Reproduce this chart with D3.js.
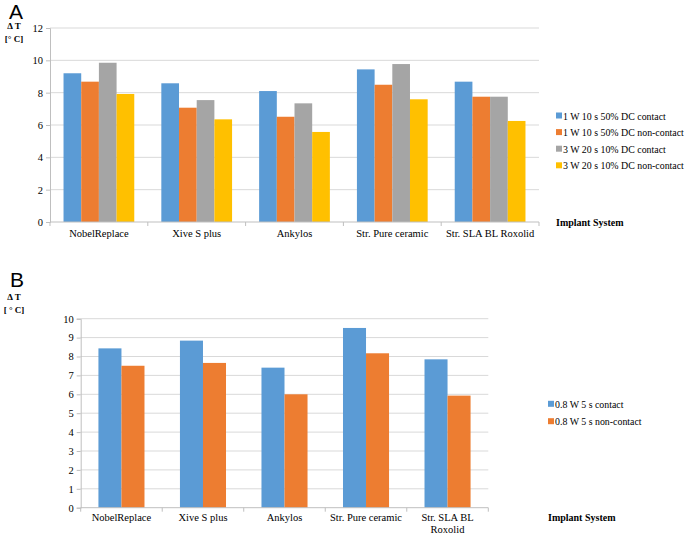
<!DOCTYPE html>
<html><head><meta charset="utf-8">
<script src="https://cdn.jsdelivr.net/npm/d3@7"></script>
<style>
body{margin:0;background:#fff;}
</style></head>
<body><svg id="c" width="685" height="535"></svg>
<script>
const categories = ["NobelReplace","Xive S plus","Ankylos","Str. Pure ceramic","Str. SLA BL Roxolid"];
const categoriesB = [["NobelReplace"],["Xive S plus"],["Ankylos"],["Str. Pure ceramic"],["Str. SLA BL","Roxolid"]];
const seriesA = ["1 W 10 s 50% DC contact","1 W 10 s 50% DC non-contact","3 W 20 s 10% DC contact","3 W 20 s 10% DC non-contact"];
const valuesA = [
  [9.2, 8.58, 8.1, 9.44, 8.68],
  [8.68, 7.07, 6.51, 8.49, 7.75],
  [9.85, 7.54, 7.34, 9.77, 7.75],
  [7.92, 6.35, 5.57, 7.59, 6.25]
];
const seriesB = ["0.8 W 5 s contact","0.8 W 5 s non-contact"];
const valuesB = [
  [8.43, 8.84, 7.41, 9.51, 7.85],
  [7.51, 7.66, 6.0, 8.17, 5.93]
];
const ticksA = [0,2,4,6,8,10,12];
const ticksB = [0,1,2,3,4,5,6,7,8,9,10];
const colors = ["#5b9bd5","#ed7d31","#a5a5a5","#ffc000"];
const SERIF = "'Liberation Serif', 'Times New Roman', Times, serif";
const SANS = "'Liberation Sans', Arial, Helvetica, sans-serif";

const svg = d3.select("#c");

function panel(cfg){
  const g = svg.append("g");
  const x = d3.scaleBand().domain(d3.range(categories.length)).range([cfg.x0, cfg.x1]).paddingInner(0).paddingOuter(0);
  const y = d3.scaleLinear().domain([0, cfg.max]).range([cfg.y0, cfg.y1]);
  const inner = d3.scaleBand().domain(d3.range(cfg.series.length)).range([0, x.bandwidth()]).paddingOuter(cfg.pad).paddingInner(0);
  g.selectAll(".grid").data(cfg.ticks.filter(t=>t>0)).join("line")
    .attr("x1", cfg.x0).attr("x2", cfg.x1)
    .attr("y1", d=>y(d)).attr("y2", d=>y(d))
    .attr("stroke","#d9d9d9").attr("stroke-width",1);
  cfg.series.forEach((s,si)=>{
    g.selectAll(".b"+si).data(cfg.values[si]).join("rect")
      .attr("x",(d,i)=>x(i)+inner(si)).attr("width",inner.bandwidth())
      .attr("y",d=>y(d)).attr("height",d=>y(0)-y(d))
      .attr("fill",colors[si]);
  });
  const ya = d3.axisLeft(y).tickValues(cfg.ticks).tickSize(4).tickPadding(3);
  const yg = g.append("g").attr("transform",`translate(${cfg.x0},0)`).call(ya);
  yg.attr("font-family", null);
  yg.select(".domain").attr("stroke","#bfbfbf");
  yg.selectAll(".tick line").attr("stroke","#bfbfbf");
  yg.selectAll("text").attr("font-size",10.5).style("font-family",SERIF).attr("fill","#000");
  g.append("line").attr("x1",cfg.x0).attr("x2",cfg.x1).attr("y1",y(0)).attr("y2",y(0)).attr("stroke","#bfbfbf");
  g.selectAll(".xt").data(d3.range(categories.length+1)).join("line")
    .attr("x1",i=>cfg.x0+i*x.bandwidth()).attr("x2",i=>cfg.x0+i*x.bandwidth())
    .attr("y1",y(0)).attr("y2",y(0)+4).attr("stroke","#bfbfbf");
  cfg.labels.forEach((lines,i)=>{
    lines.forEach((l,li)=>{
      g.append("text").attr("x",x(i)+x.bandwidth()/2).attr("y",y(0)+cfg.labelDy+li*cfg.lineStep)
        .attr("text-anchor","middle").attr("font-size",10.5).style("font-family",SERIF).text(l);
    });
  });
  cfg.series.forEach((s,si)=>{
    const ly = cfg.legY + si*cfg.legStep;
    g.append("rect").attr("x",cfg.legX).attr("y",ly-3.5).attr("width",6).attr("height",6).attr("fill",colors[si]);
    g.append("text").attr("x",cfg.legX+7).attr("y",ly+3.5).attr("font-size",9.9).style("font-family",SERIF).text(s);
  });
  g.append("text").attr("x",cfg.legX).attr("y",cfg.isY).attr("font-size",10).attr("font-weight","bold").style("font-family",SERIF).text("Implant System");
  g.append("text").attr("x",cfg.letterX).attr("y",cfg.letterY).attr("font-size",21)
    .style("font-family",SANS).text(cfg.letter);
  g.append("text").attr("x",cfg.dtX).attr("y",cfg.dtY).attr("font-size",9).attr("font-weight","bold").attr("text-anchor","middle").style("font-family",SERIF).text("Δ T");
  g.append("text").attr("x",cfg.dtX).attr("y",cfg.dtY+12.5).attr("font-size",9).attr("font-weight","bold").attr("text-anchor","middle").style("font-family",SERIF).text(cfg.unit);
}

panel({x0:50, x1:539, y0:222, y1:28, max:12, ticks:ticksA, series:seriesA, values:valuesA, pad:0.765,
  labels:categories.map(c=>[c]), labelDy:15, lineStep:12, legX:556, legY:116, legStep:16.6, isY:226,
  letter:"A", letterX:9, letterY:19, dtX:14, dtY:29, unit:"[° C]"});
panel({x0:80.7, x1:488.3, y0:507.7, y1:318.7, max:10, ticks:ticksB, series:seriesB, values:valuesB, pad:0.77,
  labels:categoriesB, labelDy:13.5, lineStep:11.5, legX:548, legY:404.3, legStep:17.4, isY:521,
  letter:"B", letterX:10, letterY:287, dtX:14, dtY:300, unit:"[ ° C]"});
</script></body></html>
